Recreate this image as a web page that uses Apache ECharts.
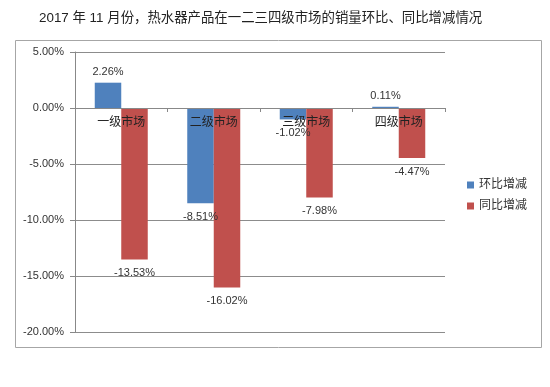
<!DOCTYPE html>
<html>
<head>
<meta charset="utf-8">
<script src="https://cdn.jsdelivr.net/npm/echarts@6/dist/echarts.min.js"></script>
<style>html,body{margin:0;padding:0;background:#fff;}#c{width:550px;height:387px;}</style>
</head>
<body>
<div id="c"></div>
<script>
var titleText = '2017 年 11 月份，热水器产品在一二三四级市场的销量环比、同比增减情况';
var categories = ['一级市场', '二级市场', '三级市场', '四级市场'];
var seriesNames = ['环比增减', '同比增减'];
var momValues = [2.26, -8.51, -1.02, 0.11];
var yoyValues = [-13.53, -16.02, -7.98, -4.47];
var yTicks = [-20, -15, -10, -5, 0, 5];

var FONT = '"Liberation Sans", "Noto Sans CJK SC", sans-serif';
var gridTop = 52, gridBottom = 55, H = 387;
var yMin = yTicks[0], yMax = yTicks[yTicks.length - 1];
var zeroOffset = -(H - gridTop - gridBottom) * (0 - yMin) / (yMax - yMin);

function items(vals) {
  return vals.map(function (v) {
    return { value: v, label: v >= 0 ? { position: 'top', distance: 5 } : { position: 'bottom', distance: 8 } };
  });
}
var labelCfg = {
  show: true, fontSize: 11, color: '#333', fontFamily: FONT,
  formatter: function (p) { return p.value.toFixed(2) + '%'; }
};
var chart = echarts.init(document.getElementById('c'));
chart.setOption({
  backgroundColor: '#fff',
  animation: false,
  title: {
    text: titleText, left: 34, top: 7,
    textStyle: { fontSize: 13.4, fontWeight: 'normal', color: '#222', fontFamily: FONT }
  },
  graphic: [{
    type: 'rect', left: 13, top: 38, shape: { width: 526, height: 307 },
    style: { fill: 'none', stroke: '#a6a6a6', lineWidth: 1 }, silent: true, z: -1
  }],
  legend: {
    orient: 'vertical', left: 462, top: 174, itemWidth: 7, itemHeight: 7, itemGap: 9,
    icon: 'rect', data: seriesNames,
    textStyle: { fontSize: 12, color: '#333', fontFamily: FONT }
  },
  grid: { left: 75, right: 105, top: gridTop, bottom: gridBottom },
  xAxis: {
    type: 'category', data: categories, position: 'bottom', offset: zeroOffset, z: 10,
    axisLine: { onZero: false, lineStyle: { color: '#888' } },
    axisTick: { show: true, length: 4, lineStyle: { color: '#888' } },
    axisLabel: { margin: 9, fontSize: 12, color: '#222', fontFamily: FONT },
    splitLine: { show: false }
  },
  yAxis: {
    type: 'value', min: yMin, max: yMax, interval: 5,
    axisLine: { show: true, lineStyle: { color: '#888' } },
    axisTick: { show: true, length: 5, lineStyle: { color: '#888' } },
    axisLabel: { margin: 11, fontSize: 11, color: '#333', fontFamily: FONT,
      formatter: function (v) { return v.toFixed(2) + '%'; } },
    splitLine: { show: true, lineStyle: { color: '#8c8c8c', width: 1 } }
  },
  series: [
    { name: seriesNames[0], type: 'bar', data: items(momValues), barWidth: 26.5, barGap: '0%',
      itemStyle: { color: '#4F81BD' }, label: labelCfg },
    { name: seriesNames[1], type: 'bar', data: items(yoyValues), barWidth: 26.5, barGap: '0%',
      itemStyle: { color: '#C0504D' }, label: labelCfg }
  ]
});
</script>
</body>
</html>
